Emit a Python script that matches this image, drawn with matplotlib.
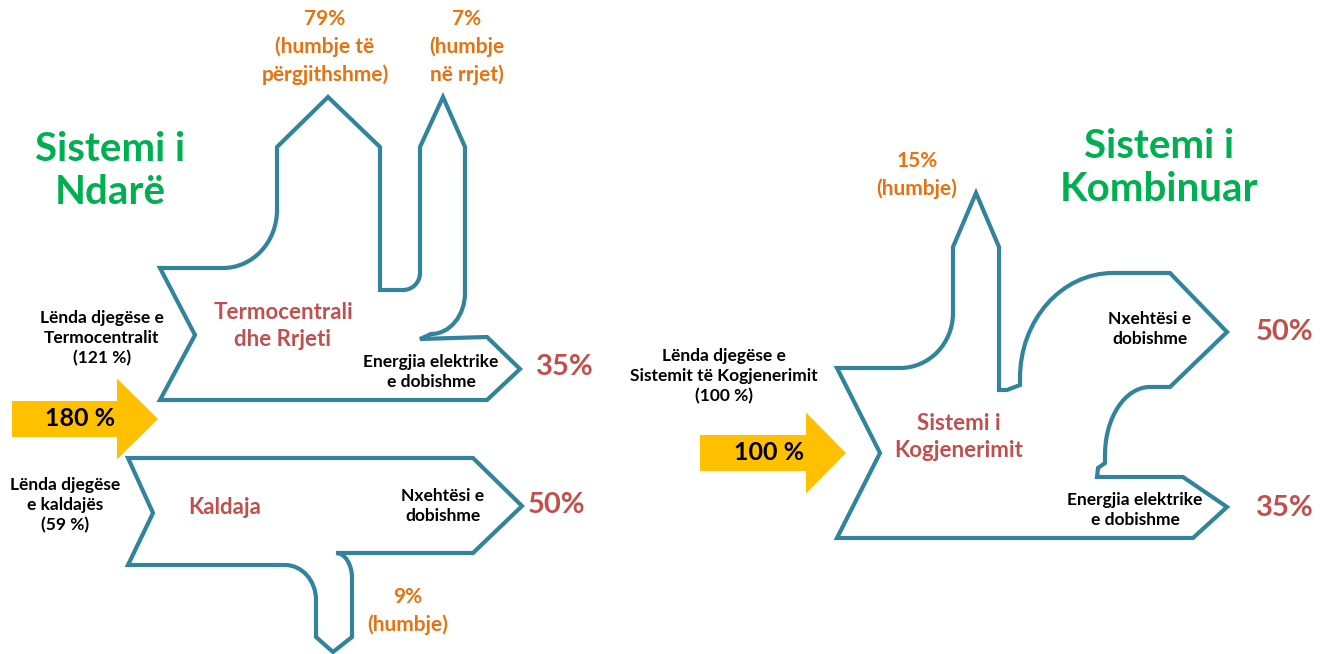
import matplotlib
matplotlib.use('Agg')
import matplotlib.pyplot as plt
from matplotlib.path import Path
from matplotlib.patches import PathPatch, Polygon

# --------------------------------- DATA --------------------------------- #
# separate system (power plant + boiler)
sep_total = 180
sep_plant_fuel = 121
sep_boiler_fuel = 59
sep_loss_general = 79
sep_loss_grid = 7
sep_loss_boiler = 9
sep_electricity = 35
sep_heat = 50

# combined system (CHP)
chp_fuel = 100
chp_loss = 15
chp_heat = 50
chp_electricity = 35

titles = ['Sistemi i\nNdarë', 'Sistemi i\nKombinuar']
unit_names = ['Termocentrali\ndhe Rrjeti', 'Kaldaja', 'Sistemi i\nKogjenerimit']
out_names = ['Energjia elektrike\ne dobishme', 'Nxehtësi e\ndobishme']

# colours
TEAL = '#31849B'
ORANGE = '#E8720F'
RED = '#C0504D'
GREEN = '#00B050'
YELLOW = '#FFC000'

plt.rcParams['font.family'] = ['Lato', 'DejaVu Sans']
K = 0.5523


# --------------------------------- HELPERS --------------------------------- #
def build_path(start, segs):
        verts = [start]
        codes = [Path.MOVETO]
        cur = start
        for s in segs:
                if s[0] == 'L':
                        verts.append(s[1])
                        codes.append(Path.LINETO)
                        cur = s[1]
                else:
                        # quarter curve, 'H' starts horizontal, 'V' starts vertical
                        x0, y0 = cur
                        x1, y1 = s[1]
                        if s[0] == 'H':
                                c1 = (x0 + K*(x1 - x0), y0)
                                c2 = (x1, y1 + K*(y0 - y1))
                        else:
                                c1 = (x0, y0 + K*(y1 - y0))
                                c2 = (x1 + K*(x0 - x1), y1)
                        verts += [c1, c2, s[1]]
                        codes += [Path.CURVE4]*3
                        cur = s[1]
        verts.append(start)
        codes.append(Path.CLOSEPOLY)
        return Path(verts, codes)


def outline(ax, start, segs):
        p = build_path(start, segs)
        ax.add_patch(PathPatch(p, facecolor='white', edgecolor=TEAL, lw=3, joinstyle='miter'))


def arrow(ax, x0, xn, xt, yc, hb, hh, label):
        pts = [(x0, yc-hb), (xn, yc-hb), (xn, yc-hh), (xt, yc), (xn, yc+hh), (xn, yc+hb), (x0, yc+hb)]
        ax.add_patch(Polygon(pts, closed=True, facecolor=YELLOW, edgecolor='none'))
        ax.text((x0+xn)/2 + 16, yc, label, ha='center', va='center', fontsize=18, fontweight='bold', color='black')


def txt(ax, x, y, s, color='black', size=12.5, ls=1.3):
        ax.text(x, y, s, ha='center', va='center', fontsize=size, fontweight='bold',
                color=color, linespacing=ls)


# --------------------------------- DRAW --------------------------------- #
fig = plt.figure(figsize=(13.28, 6.54), dpi=100)
ax = fig.add_axes([0, 0, 1, 1])
ax.set_xlim(0, 1328)
ax.set_ylim(654, 0)
ax.axis('off')

# power plant + grid
outline(ax, (160, 268), [
        ('L', (223, 268)), ('H', (277, 210)), ('L', (277, 147)), ('L', (328, 97)),
        ('L', (380, 147)), ('L', (380, 290)), ('L', (403, 290)), ('H', (420, 273)),
        ('L', (420, 147)), ('L', (443, 97)), ('L', (465, 147)), ('L', (465, 293)),
        ('V', (431, 334)), ('L', (420, 339)), ('L', (487, 337)), ('L', (520, 369)),
        ('L', (487, 400)), ('L', (160, 400)), ('L', (195, 335))])

# boiler
outline(ax, (128, 458), [
        ('L', (473, 458)), ('L', (522, 506)), ('L', (473, 553)), ('L', (336, 553)),
        ('H', (352, 578)), ('L', (352, 637)), ('L', (333, 652)), ('L', (316, 637)),
        ('L', (316, 600)), ('V', (285, 565)), ('L', (128, 565)), ('L', (153, 513))])

# CHP
outline(ax, (837, 368), [
        ('L', (900, 368)), ('H', (953, 313)), ('L', (953, 247)), ('L', (976, 193)),
        ('L', (999, 247)), ('L', (999, 390)), ('L', (1007, 390)), ('L', (1020, 385)),
        ('L', (1020, 378)), ('V', (1113, 273)), ('L', (1170, 273)), ('L', (1227, 332)),
        ('L', (1170, 387)), ('L', (1150, 387)), ('H', (1105, 455)), ('L', (1105, 463)),
        ('L', (1098, 468)), ('L', (1097, 477)), ('L', (1183, 477)), ('L', (1227, 507)),
        ('L', (1193, 538)), ('L', (837, 538)), ('L', (880, 453))])

# input arrows
arrow(ax, 12, 117, 158, 419, 18, 40.5, f'{sep_total} %')
arrow(ax, 700, 806, 846, 453, 18, 40.5, f'{chp_fuel} %')

# titles
txt(ax, 110, 171, titles[0], GREEN, 29, 1.2)
txt(ax, 1159, 168, titles[1], GREEN, 29, 1.2)

# losses
txt(ax, 325, 47, f'{sep_loss_general}%\n(humbje të\npërgjithshme)', ORANGE, 15, 1.45)
txt(ax, 467, 47, f'{sep_loss_grid}%\n(humbje\nnë rrjet)', ORANGE, 15, 1.45)
txt(ax, 408, 611, f'{sep_loss_boiler}%\n(humbje)', ORANGE, 15, 1.45)
txt(ax, 917, 175, f'{chp_loss}%\n(humbje)', ORANGE, 15, 1.45)

# unit names
txt(ax, 283, 326, unit_names[0], RED, 16, 1.3)
txt(ax, 225, 507, unit_names[1], RED, 16, 1.3)
txt(ax, 959, 437, unit_names[2], RED, 16, 1.3)

# fuel labels
txt(ax, 102, 338, f'Lënda djegëse e\nTermocentralit\n({sep_plant_fuel} %)')
txt(ax, 65, 505, f'Lënda djegëse\ne kaldajës\n({sep_boiler_fuel} %)')
txt(ax, 724, 376, f'Lënda djegëse e\nSistemit të Kogjenerimit\n({chp_fuel} %)')

# useful outputs
txt(ax, 431, 372, out_names[0])
txt(ax, 443, 506, out_names[1])
txt(ax, 1150, 329, out_names[1])
txt(ax, 1135, 510, out_names[0])

txt(ax, 565, 367, f'{sep_electricity}%', RED, 21)
txt(ax, 557, 505, f'{sep_heat}%', RED, 21)
txt(ax, 1285, 332, f'{chp_heat}%', RED, 21)
txt(ax, 1285, 508, f'{chp_electricity}%', RED, 21)

plt.savefig('out.png', dpi=100)
